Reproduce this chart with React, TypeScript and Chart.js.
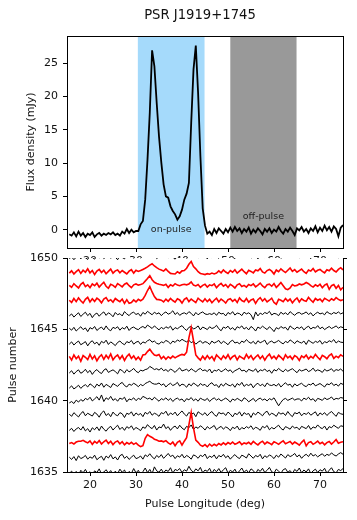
import React, { useEffect, useRef } from "react";
import { Chart, registerables } from "chart.js";

Chart.register(...registerables);

// ---------- data ----------
const TITLE = "PSR J1919+1745";
const FONT = "'DejaVu Sans', 'Liberation Sans', sans-serif";

const LON_START = 15.5; // first bin of every trace (deg)
const LON_STEP = 0.5; // bin width (deg)
const LON_MIN = 15;
const LON_MAX = 75;
const LON_TICKS = [20, 30, 40, 50, 60, 70];

const FLUX_MIN = -2.75;
const FLUX_MAX = 29.05;
const FLUX_TICKS = [0, 5, 10, 15, 20, 25];

const PULSE_MIN = 1635;
const PULSE_MAX = 1650;
const PULSE_TICKS = [1635, 1640, 1645, 1650];

const ON_PULSE = [30.4, 44.9];
const OFF_PULSE = [50.5, 64.9];
const REGION_LABELS = [
  { text: "on-pulse", x: 37.65, y: 0 },
  { text: "off-pulse", x: 57.7, y: 2 },
];

// integrated profile, mJy
const PROFILE = [
  -0.7, -0.9, -0.4, -1.0, -0.3, -0.9, -0.5, -1.1, -0.6, -0.8,
  -0.4, -1.1, -0.7, -0.5, -0.9, -0.6, -0.8, -0.5, -0.7, -0.4,
  -0.8, -0.6, -0.9, -0.3, -0.6, 0.1, -0.5, 0.0, -0.4, -0.2,
  -0.2, 0.8, 1.3, 4.5, 10.5, 17.6, 26.9, 24.5, 19.0, 14.0,
  10.1, 6.8, 5.0, 4.8, 3.5, 2.8, 2.3, 1.5, 2.0, 3.0,
  4.5, 5.4, 7.0, 16.0, 24.0, 27.6, 20.5, 11.0, 3.2, 0.6,
  -0.6, -0.3, -0.8, 0.1, -0.5, 0.2, -0.2, -0.6, 0.1, -0.4,
  0.3, -0.3, 0.4, -0.2, 0.2, -0.5, 0.1, -0.3, 0.3, -0.6,
  0.0, -0.4, 0.2, -0.2, -0.7, 0.1, -0.3, 0.2, -0.5, 0.0,
  -0.3, 0.4, -0.2, -0.6, 0.1, -0.3, 0.3, -0.2, -0.8, 0.2,
  -0.1, 0.4, -0.3, 0.1, -0.5, 0.2, -0.2, 0.5, -0.4, 0.3,
  -0.2, 0.6, -0.1, 0.4, -0.3, 0.5, 0.1, -1.0, 0.3, 0.7,
];

// single pulses, in fiftieths of the pulse spacing
const P1635 = [
  -5, 3, -8, 2, -12, 6, -3, 9, -6, 1,
  -10, 4, -2, 11, -7, 0, 8, -4, 5, -9,
  3, -6, 10, -1, 7, -11, 2, -5, 12, -3,
  6, -8, 1, 14, -2, 9, -6, 18, 4, -1,
  10, -3, 7, 2, 15, -4, 9, 5, 12, -2,
  8, 3, 20, 6, -1, 11, 4, 16, -3, 7,
  2, 13, -5, 9, 1, 12, -2, 8, 15, -4,
  6, 0, 10, -6, 4, 14, -1, 7, -3, 11,
  5, -7, 9, 2, 13, -2, 6, 16, 1, -4,
  10, 3, -5, 8, 12, -1, 5, -6, 9, 2,
  14, -3, 7, 0, 11, -5, 4, 10, -2, 8,
  3, 13, -4, 6, 15, 1, -3, 9, 5, 12,
];
const P1636 = [
  2, -6, 4, -10, 7, -3, 1, 8, -5, 3,
  -2, 9, -7, 0, 5, -9, 6, -1, 11, -4,
  3, -8, 7, 12, -2, 5, -6, 2, 9, -3,
  0, 6, -5, 10, 4, 14, 3, -4, 8, 1,
  11, -2, 6, 15, 4, 9, -3, 7, 2, 12,
  -1, 8, 3, -5, 10, 6, -2, 9, 4, 13,
  -3, 6, 1, 10, -4, 8, 3, 12, 0, 7,
  -5, 4, 11, 2, -3, 9, 5, -1, 14, 6,
  -2, 8, 3, 12, -4, 7, 1, 10, 5, -3,
  9, 2, 13, 6, -1, 11, 4, 8, 15, 3,
  10, -2, 7, 12, 4, 16, 6, 11, 3, 9,
  14, 5, 12, 8, 17, 10, 6, 13, 18, 12,
];
const P1637 = [
  0, 3, -2, 5, 8, 8, 11, 6, 2, 9,
  -3, 7, 1, 10, -2, 6, 12, 0, 8, -4,
  5, 9, -1, 6, -5, 3, -2, 4, -3, 2,
  -6, -11, -8, 18, 31, 25, 21, 15, 12, 8,
  9, 6, 10, 2, -3, 5, -8, 4, 9, -6,
  8, 20, 65, 109, 55, 12, 4, -6, -10, -4,
  -12, -2, -9, -3, -8, 0, -5, 2, -4, 3,
  -2, 5, -3, 1, 6, -4, 2, -1, 4, -3,
  7, 0, -5, 3, 8, -2, 5, 1, -4, 6,
  2, -3, 4, 9, -1, 3, 7, -2, 5, 0,
  -6, 4, 12, -8, 3, 6, -3, 2, 8, -1,
  4, -5, 3, 7, -2, 5, 14, 1, 4, 6,
];
const P1638 = [
  -4, 3, -8, 1, 6, -3, 9, -6, 2, -10,
  5, -2, 8, -5, 11, 0, -7, 4, 10, -3,
  6, 14, -1, 7, -4, 9, 3, 12, -2, 6,
  1, -5, 8, 3, 16, 7, 2, 13, -3, 8,
  5, 18, 2, 9, -4, 6, 11, 1, 14, 4,
  -2, 10, 5, 15, -1, 8, 3, 12, 6, -3,
  9, 2, 7, 13, -2, 5, 10, 0, 8, 4,
  -5, 7, 2, 11, -3, 6, 1, 9, 4, 12,
  -1, 7, 3, -4, 10, 5, 13, -2, 6, 1,
  8, 14, 3, -3, 9, 5, 0, 11, 4, 7,
  -2, 10, 6, 2, 13, -1, 8, 4, 15, 6,
  2, 11, -3, 9, 5, 14, 8, 3, 12, 10,
];
const P1639 = [
  3, -5, 8, 0, -7, 5, 12, -3, 6, 1,
  -4, 9, 3, -8, 7, 14, -2, 5, -6, 10,
  1, -3, 8, 4, -9, 6, 2, 11, -4, 7,
  0, 5, -6, 9, 3, 12, -1, 6, 2, -5,
  8, 4, 13, -2, 7, 1, 10, -3, 6, 14,
  3, -4, 9, 2, 7, -6, 11, 5, 0, 8,
  -3, 6, 12, 1, -5, 9, 4, 7, -2, 10,
  3, -7, 6, 1, 11, -4, 8, 2, 5, -9,
  7, 0, 10, 4, -3, 8, 13, -1, 6, 2,
  -5, 9, 3, 7, -2, 12, 1, -6, 8, 4,
  10, -3, 6, 2, 9, -1, 5, 11, -4, 7,
  1, 8, -2, 6, 12, 3, -5, 9, 4, 2,
];
const P1640 = [
  -8, -3, -10, 2, -5, 4, -2, 8, 3, 12,
  -1, 6, 14, 2, 20, -3, 10, 4, 15, 1,
  7, -2, 9, 5, 12, -4, 6, 3, 10, 0,
  8, 4, 15, 11, 6, 9, 2, 12, 5, -2,
  7, 3, 10, 1, 8, -3, 5, 9, 2, 6,
  -4, 7, 3, 11, 0, 6, -2, 9, 4, 1,
  8, -3, 5, 10, 2, 7, -1, 4, 9, 3,
  -5, 6, 1, 8, 3, -2, 10, 5, -4, 2,
  8, -3, 5, 9, 2, 6, -1, 7, 3, 10,
  -4, -18, -6, 4, 8, 1, 5, 9, 2, 6,
  6, -1, 9, 4, 12, 2, 7, -3, 8, 5,
  1, 10, 4, 7, 13, 3, 8, 6, 11, 9,
];
const P1641 = [
  -6, 2, -9, -3, 4, -7, 1, 6, -2, 9,
  3, -5, 8, 1, 12, -3, 7, 2, -4, 10,
  5, 0, 9, 14, 3, -2, 8, 4, 11, 6,
  -1, 7, 2, 10, 14, 18, 11, 8, 8, 12,
  4, 9, -2, 6, 11, 3, 7, 14, 1, 8,
  5, -3, 9, 2, 12, 6, 0, 10, 4, 7,
  -2, 8, 13, 3, 6, -4, 9, 1, 11, 5,
  2, 8, -3, 10, 4, 14, 0, 7, 3, 9,
  -5, 6, 11, 2, 8, -1, 12, 5, 3, 7,
  1, 10, -2, 6, 13, 4, 8, -3, 9, 2,
  7, 11, 3, -1, 8, 5, 12, 2, 6, 10,
  4, -2, 9, 6, 13, 3, 8, 1, 11, 7,
];
const P1642 = [
  -3, 5, -7, 2, 8, -4, 1, 10, -2, 6,
  -8, 3, 9, 0, -5, 7, 12, -1, 4, 8,
  2, -6, 10, 5, -3, 9, 1, 6, 13, 3,
  -2, 7, 4, 9, 11, 20, 15, 9, 12, 7,
  14, 5, 9, 2, 11, 6, -1, 8, 15, 4,
  7, 10, 3, 12, 6, 1, 9, 13, 5, 8,
  2, 11, -3, 7, 4, 10, 1, 6, 12, 3,
  8, -2, 5, 9, 14, 4, 7, 0, 10, 6,
  3, 12, -1, 8, 5, 11, 2, 7, -4, 9,
  4, 13, 6, 1, 10, 3, 8, 12, 5, -2,
  9, 4, 7, 11, 2, 6, 14, 3, 8, 5,
  -1, 10, 4, 7, 12, 2, 9, 6, 11, 3,
];
const P1643 = [
  5, -8, 10, -3, 6, -12, 8, 2, -6, 12,
  -4, 7, -10, 3, 11, -5, 9, -2, 14, -7,
  4, 10, -4, 8, -9, 5, 13, -2, 7, -6,
  3, -8, 10, 12, 22, 30, 19, 10, 8, 12,
  -3, 5, -5, 4, -2, 6, 0, 5, 9, 12,
  10, 20, 70, 106, 60, 10, 0, -8, 6, -5,
  8, -3, 5, -9, 10, 2, -6, 7, -2, 11,
  -5, 4, 9, -7, 6, 1, -4, 12, -1, 8,
  -6, 3, 10, -3, 7, -8, 5, 13, -2, 6,
  -4, 9, 2, -7, 11, 0, 6, -5, 8, 3,
  -9, 7, 1, 10, -4, 5, -1, 12, 2, -6,
  9, 4, -3, 8, 14, -2, 6, 1, 11, 5,
];
const P1644 = [
  -2, 6, -5, 3, 9, -4, 1, 7, -8, 4,
  10, -1, 5, -6, 8, 2, 12, -3, 6, 0,
  -7, 4, 9, 1, -4, 7, 3, 11, -2, 5,
  8, -3, 6, 2, 10, 14, 5, 9, 1, -2,
  6, 3, 11, 7, -1, 9, 4, 13, 8, 15,
  10, 6, 12, 3, 8, -2, 5, 10, 1, 7,
  4, -3, 9, 2, 6, 11, 0, 8, 3, -4,
  7, 12, 2, 5, -1, 9, 4, 14, 6, 1,
  8, -2, 10, 3, 7, 12, -3, 5, 9, 2,
  6, 11, 4, -1, 8, 3, 13, 7, 0, 10,
  5, 2, 9, -3, 12, 6, 1, 8, 4, 11,
  -2, 7, 3, 10, 6, 14, 2, 9, 5, 4,
];
const P1645 = [
  4, -3, 7, -6, 2, 9, -1, 5, -8, 6,
  1, 10, -4, 3, 8, -2, 12, 0, -5, 7,
  3, 9, -3, 6, 1, 11, -4, 5, 8, 2,
  -1, 6, 10, 4, 15, 9, 3, 12, 5, -2,
  7, 1, 9, 4, 11, -3, 6, 2, 8, 13,
  3, -4, 7, 10, 1, 5, 12, -2, 8, 4,
  -1, 9, 3, 6, 14, 2, -5, 8, 4, 11,
  0, 6, -3, 9, 5, 12, 1, 7, -2, 10,
  4, -6, 8, 3, 11, 5, -1, 9, 2, -8,
  6, 1, 10, 4, 7, -3, 12, 5, 0, 8,
  3, 9, -2, 6, 11, 1, 7, 4, 13, 2,
  8, -1, 5, 10, 3, 7, 12, 4, 9, 6,
];
const P1646 = [
  -3, 4, -7, 1, 8, -5, 3, 10, -2, 6,
  -9, 2, 7, -4, 5, 11, -1, 8, 3, -6,
  9, 1, 5, -3, 12, 4, -2, 7, 10, 2,
  6, -4, 9, 3, 13, 7, 1, 10, 4, 8,
  -2, 6, 11, 3, 7, 15, 2, 9, -1, 5,
  8, 3, 12, 6, -3, 9, 1, 7, 11, 4,
  2, 5, 2, 8, -1, 10, 4, 6, -3, 9,
  3, 12, 0, 7, 5, -2, 10, 4, 8, 1,
  -16, 11, -3, 7, 2, 9, 5, 13, 0, 6,
  4, -2, 10, 3, 8, 1, 12, 5, -1, 7,
  9, 3, 6, 11, 2, 8, -3, 5, 10, 4,
  7, 1, 12, 6, 3, 9, 5, 11, 4, 8,
];
const P1647 = [
  2, -6, 8, -3, 10, 0, -8, 5, 12, -4,
  7, -2, 9, 3, -7, 6, 11, -1, 4, -5,
  8, 2, -3, 6, -9, 4, -9, -6, 3, -4,
  5, 0, 6, 19, 36, 50, 31, 15, 5, 4,
  2, -4, 6, -2, 8, 1, -5, 7, 3, -8,
  5, 10, -3, 6, 0, -6, 9, 2, -4, 7,
  -3, 5, -7, 2, 9, -4, 6, 0, -8, 4,
  7, -2, 5, -6, 10, 1, -3, 8, -5, 3,
  6, -9, 4, 11, -1, 7, -4, 2, 9, -6,
  -12, 5, 2, -3, 8, -1, 6, -7, 3, 10,
  -4, 7, 1, -2, 12, 3, -5, 8, 2, 6,
  -3, 9, 4, -1, 7, 2, 11, 5, 1, 4,
];
const P1648 = [
  4, -3, 10, 2, -5, 8, 14, 0, 6, -4,
  9, 3, 12, -2, 7, 15, 1, -6, 8, 4,
  -3, 10, 5, -1, 8, 12, 3, -4, 6, 9,
  5, 7, 10, 19, 28, 38, 24, 15, 11, 8,
  6, 4, 8, -3, 6, 2, 10, 5, 3, 6,
  8, 6, 9, 16, 5, 2, 7, -3, 4, 8,
  -2, 6, 3, 9, -4, 5, 11, 1, 7, -3,
  8, 2, -5, 6, 10, 0, 4, -2, 7, 3,
  9, -1, 5, 12, 2, -4, 6, 8, 1, 10,
  -3, 5, 14, 3, -8, -11, -5, 7, 2, 4,
  9, 6, 9, 14, 10, 3, -2, 6, 1, 8,
  -4, 5, 9, -10, 3, 7, -6, 4, -12, -3,
];
const P1649 = [
  -3, 5, -6, 2, 9, -4, 7, 0, 12, -2,
  6, -8, 4, 10, -1, 7, -5, 3, 11, -3,
  5, 8, -2, 6, 0, -6, 4, 9, -3, 7,
  3, 6, 10, 14, 19, 25, 30, 22, 16, 11,
  8, 4, 12, 3, -4, -5, -6, 2, -3, 5,
  6, 14, 28, 38, 20, 12, 2, -4, -6, -8,
  -5, -7, -3, -6, -3, 5, -2, 8, 1, -4,
  6, 0, 9, -3, 4, 11, 2, -5, 7, 3,
  -2, 8, 5, 13, 1, -3, 6, 10, 4, -6,
  8, 2, 12, 5, -1, 7, 15, 3, 9, 0,
  6, 11, 2, -4, 8, 4, 13, 1, 7, 10,
  3, -2, 9, 5, 14, 6, 1, 10, 16, 8,
];
const P1650 = [
  -2, 4, -6, 3, 8, -3, 6, 1, -5, 9,
  2, -4, 7, 0, 10, -2, 5, 12, -1, 6,
  3, -6, 8, 2, -3, 9, 4, 11, -1, 7,
  5, 0, 9, 3, 12, 6, 2, 8, -2, 5,
  10, 4, 7, 1, 14, 3, -4, 6, 9, 2,
  8, -1, 5, 11, 4, 7, 0, 13, 3, 6,
  -3, 9, 2, 10, 5, -1, 8, 4, 12, 1,
  6, 3, -2, 9, 7, 14, 2, 5, 11, 0,
  4, 8, -3, 6, 10, 2, 7, 1, 12, 5,
  3, 9, -1, 6, 13, 4, 8, 2, 10, 6,
  1, 7, 11, 3, 5, -2, 9, 4, 12, 8,
  2, 6, 10, 3, 14, 5, 8, 1, 9, 4,
];

const PULSE_NUMBERS = [
  1635, 1636, 1637, 1638, 1639, 1640, 1641, 1642,
  1643, 1644, 1645, 1646, 1647, 1648, 1649, 1650,
];
const PULSE_TRACES = [
  P1635, P1636, P1637, P1638, P1639, P1640, P1641, P1642,
  P1643, P1644, P1645, P1646, P1647, P1648, P1649, P1650,
];
const RED_PULSES = [1637, 1643, 1647, 1648, 1649];
const TRACE_UNIT = 0.02;

// ---------- helpers ----------
const align = (p: number) => Math.round(p - 0.5) + 0.5;
const setTicks = (vals: number[]) => (s: any) => {
  s.ticks = vals.map((v) => ({ value: v }));
};
const toXY = (arr: number[], off: number, unit: number) =>
  arr.map((v, i) => ({ x: LON_START + i * LON_STEP, y: off + v * unit }));
const plain = (v: any) => String(v);

const tickFont = { family: FONT, size: 11 };
const titleFont = { family: FONT, size: 11 };
const TEXT = "#111";

export default function App() {
  const topRef = useRef<HTMLCanvasElement>(null);
  const botRef = useRef<HTMLCanvasElement>(null);

  useEffect(() => {
    const topPlugin = {
      id: "topDecor",
      beforeDatasetsDraw(chart: any) {
        const { ctx, chartArea: a, scales } = chart;
        const x = scales.x;
        ctx.save();
        ctx.fillStyle = "#a5dafb";
        const b0 = x.getPixelForValue(ON_PULSE[0]);
        const b1 = x.getPixelForValue(ON_PULSE[1]);
        ctx.fillRect(b0, a.top, b1 - b0, a.bottom - a.top);
        ctx.fillStyle = "#999999";
        const g0 = x.getPixelForValue(OFF_PULSE[0]);
        const g1 = x.getPixelForValue(OFF_PULSE[1]);
        ctx.fillRect(g0, a.top, g1 - g0, a.bottom - a.top);
        ctx.restore();
      },
      afterDatasetsDraw(chart: any) {
        const { ctx, scales } = chart;
        ctx.save();
        ctx.fillStyle = "#222";
        ctx.font = `9.5px ${FONT}`;
        ctx.textAlign = "center";
        ctx.textBaseline = "middle";
        REGION_LABELS.forEach((l) => {
          ctx.fillText(l.text, scales.x.getPixelForValue(l.x), scales.y.getPixelForValue(l.y));
        });
        ctx.restore();
      },
      afterDraw(chart: any) {
        const { ctx, chartArea: a } = chart;
        ctx.save();
        ctx.strokeStyle = "#000";
        ctx.lineWidth = 1;
        const l = align(a.left), r = align(a.right), t = align(a.top), b = align(a.bottom);
        ctx.strokeRect(l, t, r - l, b - t);
        ctx.fillStyle = TEXT;
        ctx.font = `13.2px ${FONT}`;
        ctx.textAlign = "center";
        ctx.textBaseline = "middle";
        ctx.fillText(TITLE, 200, 15.5);
        ctx.restore();
      },
    };

    const botPlugin = {
      id: "botDecor",
      beforeDraw(chart: any) {
        const { ctx, chartArea: a } = chart;
        ctx.save();
        ctx.fillStyle = "#fff";
        ctx.fillRect(a.left, a.top, a.right - a.left, a.bottom - a.top);
        ctx.restore();
      },
    };

    const axisCommon = {
      grid: { drawOnChartArea: false, drawTicks: true, tickLength: 4, color: "#000", tickColor: "#000", lineWidth: 1 },
      border: { display: true, color: "#000", width: 1 },
    };

    const top = new Chart(topRef.current!, {
      type: "line",
      data: {
        datasets: [
          {
            data: toXY(PROFILE, 0, 1),
            borderColor: "#000",
            borderWidth: 1.8,
            pointRadius: 0,
            tension: 0,
          },
        ],
      },
      options: {
        animation: false,
        responsive: false,
        devicePixelRatio: 1,
        layout: { padding: { top: 36, left: 0, right: 14, bottom: 252 } },
        plugins: { legend: { display: false }, tooltip: { enabled: false } },
        scales: {
          x: {
            type: "linear",
            min: LON_MIN,
            max: LON_MAX,
            afterBuildTicks: setTicks(LON_TICKS),
            afterFit: (s: any) => { s.height = 20; },
            ticks: { color: TEXT, font: tickFont, padding: 3, maxRotation: 0, callback: plain },
            ...axisCommon,
          },
          y: {
            type: "linear",
            min: FLUX_MIN,
            max: FLUX_MAX,
            afterBuildTicks: setTicks(FLUX_TICKS),
            afterFit: (s: any) => { s.width = 67; },
            ticks: { color: TEXT, font: tickFont, padding: 5, callback: plain },
            title: { display: true, text: "Flux density (mJy)", color: TEXT, font: titleFont, padding: { top: 24.7, bottom: 0 } },
            ...axisCommon,
          },
        },
      },
      plugins: [topPlugin],
    } as any);

    const bot = new Chart(botRef.current!, {
      type: "line",
      data: {
        datasets: PULSE_NUMBERS.map((p, i) => {
          const red = RED_PULSES.includes(p);
          return {
            data: toXY(PULSE_TRACES[i], p, TRACE_UNIT),
            borderColor: red ? "#ff0000" : "#000",
            borderWidth: red ? 1.6 : 1.0,
            pointRadius: 0,
            tension: 0,
            yAxisID: "y",
          };
        }),
      },
      options: {
        animation: false,
        responsive: false,
        devicePixelRatio: 1,
        layout: { padding: { top: 258, left: 0, right: 10, bottom: 8 } },
        plugins: { legend: { display: false }, tooltip: { enabled: false } },
        scales: {
          x: {
            type: "linear",
            min: LON_MIN,
            max: LON_MAX,
            afterBuildTicks: setTicks(LON_TICKS),
            afterFit: (s: any) => { s.height = 40; },
            ticks: { color: TEXT, font: tickFont, padding: 3, maxRotation: 0, callback: plain },
            title: { display: true, text: "Pulse Longitude (deg)", color: TEXT, font: titleFont, padding: { top: 0, bottom: 1.4 } },
            ...axisCommon,
          },
          y: {
            type: "linear",
            position: "left",
            min: PULSE_MIN,
            max: PULSE_MAX,
            afterBuildTicks: setTicks(PULSE_TICKS),
            afterFit: (s: any) => { s.width = 67; },
            ticks: { color: TEXT, font: tickFont, padding: 5, callback: plain },
            title: { display: true, text: "Pulse number", color: TEXT, font: titleFont, padding: { top: 6.7, bottom: 0 } },
            ...axisCommon,
          },
          y2: {
            type: "linear",
            position: "right",
            min: PULSE_MIN,
            max: PULSE_MAX,
            afterBuildTicks: setTicks(PULSE_TICKS),
            afterFit: (s: any) => { s.width = 4; },
            ticks: { display: false },
            ...axisCommon,
          },
        },
      },
      plugins: [botPlugin],
    } as any);

    return () => {
      top.destroy();
      bot.destroy();
    };
  }, []);

  const cStyle: React.CSSProperties = { position: "absolute", left: 0, top: 0, width: 357, height: 520 };
  return (
    <div style={{ position: "fixed", left: 0, top: 0, width: 357, height: 520, background: "#fff" }}>
      <canvas ref={topRef} width={357} height={520} style={cStyle} />
      <canvas ref={botRef} width={357} height={520} style={cStyle} />
    </div>
  );
}
